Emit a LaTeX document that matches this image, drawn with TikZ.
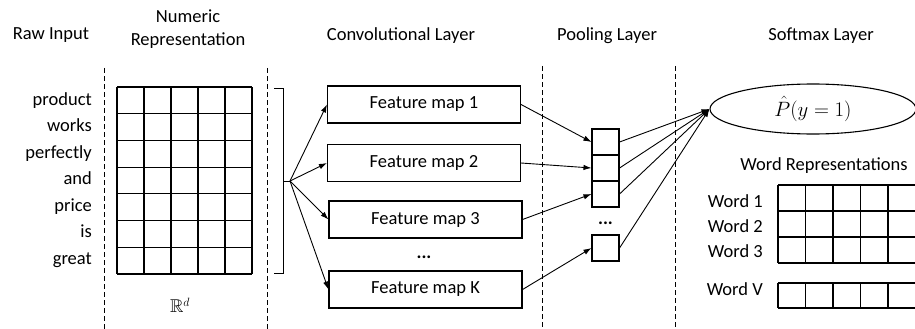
\documentclass[tikz,border=0pt]{standalone}
\usepackage{amssymb}
\usepackage{fontspec}
\setmainfont{Carlito}
\usetikzlibrary{arrows.meta,shapes.geometric}

\begin{document}
\begin{tikzpicture}[x=1pt, y=-1pt, font=\fontsize{18.5}{23}\selectfont,
        >={Latex[length=8pt,width=5.5pt]},
        divider/.style={black, line width=0.9pt, dash pattern=on 5pt off 3pt},
        cell/.style={black, line width=1.1pt},
        fmap/.style={draw, line width=1.1pt, minimum width=193pt, minimum height=37pt, inner sep=0pt},
        pbox/.style={draw, line width=1.1pt, minimum width=27pt, minimum height=26pt, inner sep=0pt},
        word/.style={anchor=east, inner sep=0pt, text height=14pt, text depth=2pt},
        link/.style={black, line width=0.9pt, ->}]
        \useasboundingbox (0,0) rectangle (915,329);
        % headings
        \node (hraw) at (51,35) {Raw Input};
        \node[align=center] (hnum) at (188,29) {Numeric\\Representation};
        \node (hconv) at (401,36) {Convolutional Layer};
        \node (hpool) at (607,36) {Pooling Layer};
        \node (hsoft) at (821,36) {Softmax Layer};
        % dashed dividers
        \draw[divider] (104,68) -- (104,329);
        \draw[divider] (267,68) -- (267,329);
        \draw[divider] (542,66) -- (542,329);
        \draw[divider] (675,66) -- (675,329);
        % raw input words
        \foreach \w [count=\i] in {product,works,perfectly,and,price,is,great}
            \node[word] (w\i) at (92,{99+26.5*(\i-1)}) {\w};
        % numeric representation
        \foreach \i in {0,...,5}
            \draw[cell] ({117+27*\i},87) -- ({117+27*\i},274);
        \foreach \j in {0,...,7}
            \draw[cell] (117,{87+26.71*\j}) -- (252,{87+26.71*\j});
        \node (rd) at (180,305) {$\mathbb{R}^d$};
        % bracket
        \draw[line width=0.9pt] (274,88) -- (283,88) -- (283,273) -- (274,273);
        \coordinate (brk) at (290,181);
        \draw[line width=0.9pt] (283,181) -- (brk);
        % convolutional layer
        \node[fmap] (fm1) at (424,104.5) {Feature map 1};
        \node[fmap] (fm2) at (424,163) {Feature map 2};
        \node[fmap] (fm3) at (425.5,219.5) {Feature map 3};
        \node (fmdots) at (424,257) {\textbf{...}};
        \node[fmap] (fmK) at (425.5,289.5) {Feature map K};
        \foreach \f in {fm1,fm2,fm3,fmK}
            \draw[link] (brk) -- (\f.west);
        % pooling layer
        \node[pbox] (p1) at (605.5,142) {};
        \node[pbox] (p2) at (605.5,168) {};
        \node[pbox] (p3) at (605.5,194) {};
        \node (pdots) at (605.5,223) {\textbf{...}};
        \node[pbox] (p4) at (605.5,248) {};
        \foreach \f/\p in {fm1/p1,fm2/p2,fm3/p3,fmK/p4}
            \draw[link] (\f.east) -- (\p.west);
        % softmax layer
        \node[draw, ellipse, line width=1.1pt, minimum width=206pt, minimum height=50pt, inner sep=0pt,
              font=\fontsize{21}{25}\selectfont] (soft) at (813,109) {$\hat{P}(y=1)$};
        \foreach \p in {p1,p2,p3,p4}
            \draw[link] (\p.east) -- (soft.west);
        % word representations
        \node (hword) at (824,166) {Word Representations};
        \foreach \i in {0,...,5}
            \draw[cell] ({778+27.5*\i},185) -- ({778+27.5*\i},263);
        \foreach \j in {0,...,3}
            \draw[cell] (778,{185+26*\j}) -- (915.5,{185+26*\j});
        \foreach \i in {0,...,5}
            \draw[cell] ({778+27.5*\i},283) -- ({778+27.5*\i},308);
        \draw[cell] (778,283) -- (915.5,283);
        \draw[cell] (778,308) -- (915.5,308);
        \node[word] (v1) at (763,201) {Word 1};
        \node[word] (v2) at (763,226) {Word 2};
        \node[word] (v3) at (763,251) {Word 3};
        \node[word] (vV) at (763,289) {Word V};
        \end{tikzpicture}
\end{document}
